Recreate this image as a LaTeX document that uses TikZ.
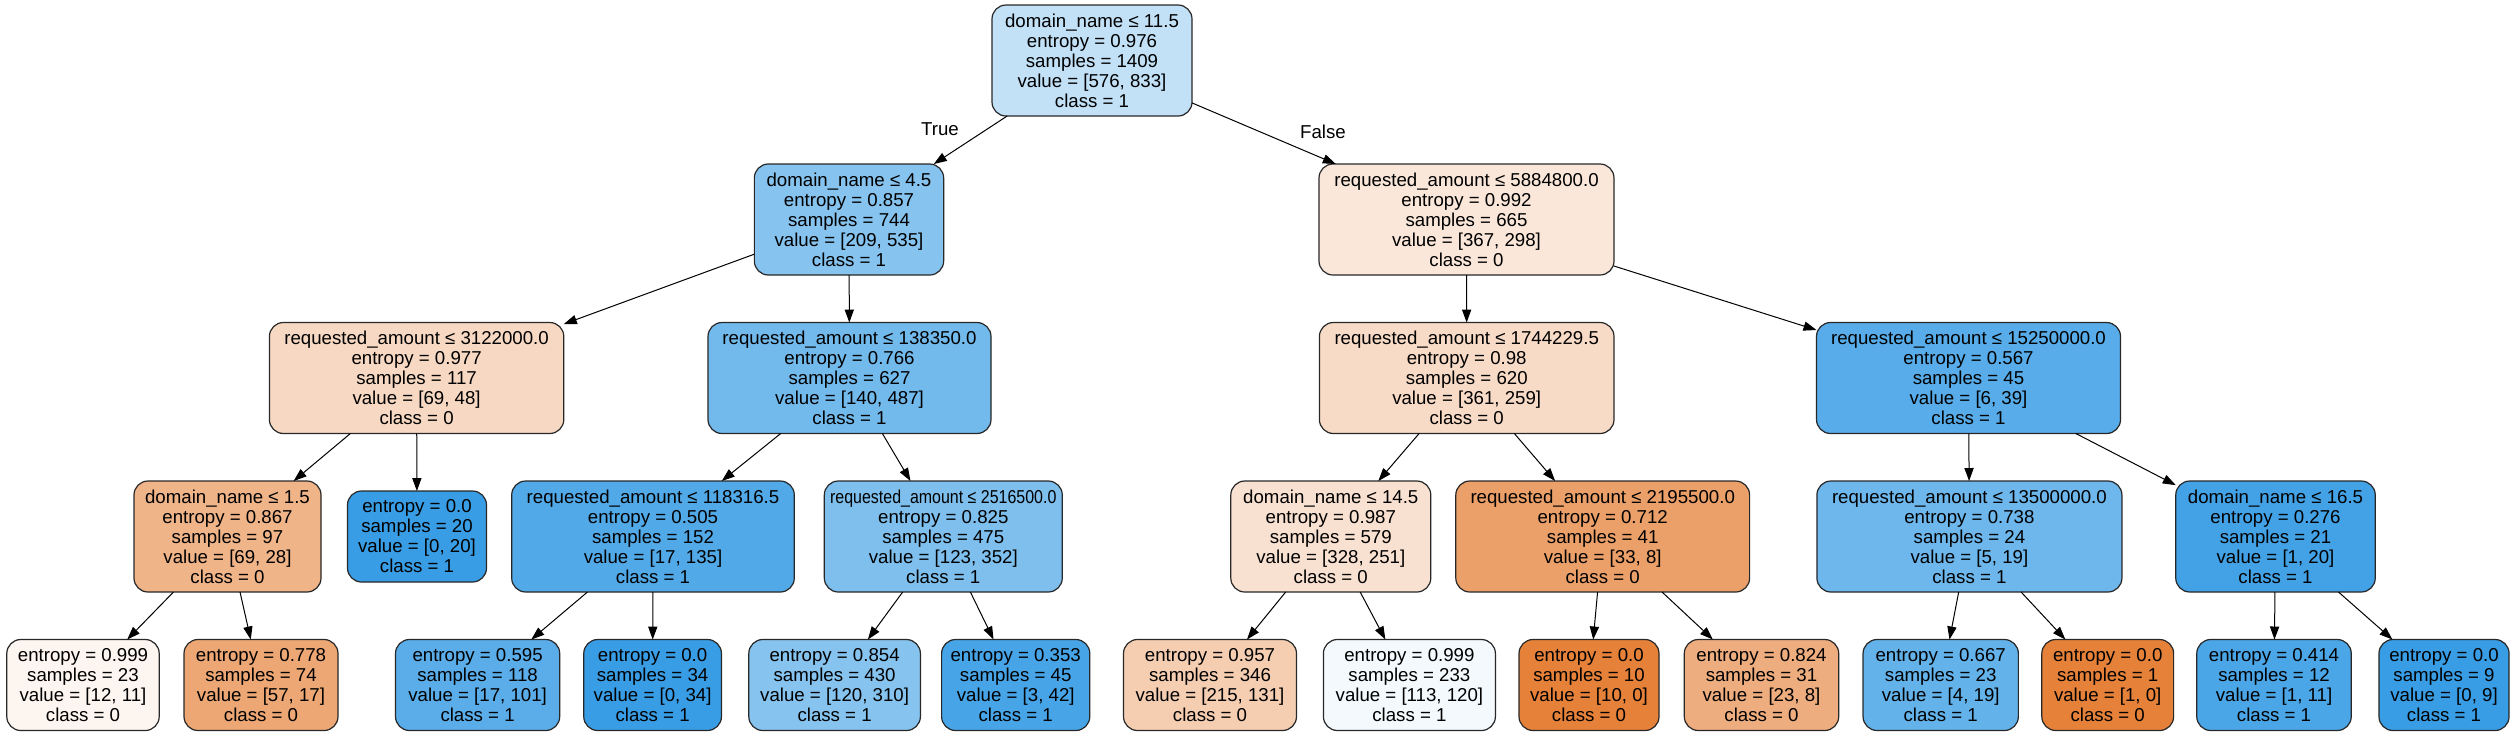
\documentclass[tikz,border=0pt]{standalone}
\usepackage{fontspec}
\setmainfont{Liberation Sans}
\usetikzlibrary{
	arrows.meta
}
\definecolor{ClassZero}{RGB}{229,129,57}
\definecolor{ClassOne}{RGB}{57,157,229}
\definecolor{EdgeGray}{RGB}{40,40,40}

\begin{document}
\begin{tikzpicture}[
	x=0.5pt,
	y=-0.5pt,
	split/.style={
		draw=EdgeGray,
		line width=0.6pt,
		rounded corners=7pt,
		align=center,
		inner xsep=4.5pt,
		inner ysep=0pt,
		outer sep=0pt,
		minimum height=55.5pt,
		font=\fontsize{9.33}{10}\selectfont
	},
	leaf/.style={
		split,
		minimum height=45.5pt
	},
	branch/.style={
		-{Triangle[length=6.5pt,width=4.6pt]},
		line width=0.5pt,
		black
	},
	answer/.style={
		inner sep=0pt,
		font=\fontsize{9.33}{10}\selectfont
	}
	]
	
	\fill[white] (0,0) rectangle (2516,736);
	
	\node[split, minimum width=100pt, fill=ClassOne!30.85] (N0) at (1092,60.5) {domain\_name ≤ 11.5\\entropy = 0.976\\samples = 1409\\value = [576, 833]\\class = 1};
	
	\node[split, minimum width=94.65pt, fill=ClassOne!60.93] (N1) at (849,219.5) {domain\_name ≤ 4.5\\entropy = 0.857\\samples = 744\\value = [209, 535]\\class = 1};
	\node[split, minimum width=147.5pt, fill=ClassZero!18.8] (N14) at (1466.5,219.5) {requested\_amount ≤ 5884800.0\\entropy = 0.992\\samples = 665\\value = [367, 298]\\class = 0};
	
	\node[split, minimum width=147.2pt, fill=ClassZero!30.43] (N2) at (416.6,378) {requested\_amount ≤ 3122000.0\\entropy = 0.977\\samples = 117\\value = [69, 48]\\class = 0};
	\node[split, minimum width=141.5pt, fill=ClassOne!71.25] (N7) at (849.5,378) {requested\_amount ≤ 138350.0\\entropy = 0.766\\samples = 627\\value = [140, 487]\\class = 1};
	\node[split, minimum width=147.3pt, fill=ClassZero!28.25] (N15) at (1466.7,378) {requested\_amount ≤ 1744229.5\\entropy = 0.98\\samples = 620\\value = [361, 259]\\class = 0};
	\node[split, minimum width=152pt, fill=ClassOne!84.62] (N22) at (1968.5,378) {requested\_amount ≤ 15250000.0\\entropy = 0.567\\samples = 45\\value = [6, 39]\\class = 1};
	
	\node[split, minimum width=93.5pt, fill=ClassZero!59.42] (N3) at (227.5,536.5) {domain\_name ≤ 1.5\\entropy = 0.867\\samples = 97\\value = [69, 28]\\class = 0};
	\node[leaf, minimum width=69.5pt, fill=ClassOne] (N6) at (417,536.5) {entropy = 0.0\\samples = 20\\value = [0, 20]\\class = 1};
	\node[split, minimum width=141.3pt, fill=ClassOne!87.41] (N8) at (653,536.5) {requested\_amount ≤ 118316.5\\entropy = 0.505\\samples = 152\\value = [17, 135]\\class = 1};
	\node[split, inner xsep=2.9pt, fill=ClassOne!65.06] (N11) at (943.3,536.5) {\scalebox{0.856}[1]{requested\_amount ≤ 2516500.0}\\entropy = 0.825\\samples = 475\\value = [123, 352]\\class = 1};
	\node[split, minimum width=100pt, fill=ClassZero!23.48] (N16) at (1330.8,536.5) {domain\_name ≤ 14.5\\entropy = 0.987\\samples = 579\\value = [328, 251]\\class = 0};
	\node[split, minimum width=146.9pt, fill=ClassZero!75.76] (N19) at (1602.7,536.5) {requested\_amount ≤ 2195500.0\\entropy = 0.712\\samples = 41\\value = [33, 8]\\class = 0};
	\node[split, minimum width=152.5pt, fill=ClassOne!73.68] (N23) at (1969.4,536.5) {requested\_amount ≤ 13500000.0\\entropy = 0.738\\samples = 24\\value = [5, 19]\\class = 1};
	\node[split, minimum width=99.75pt, fill=ClassOne!95] (N26) at (2275.5,536.5) {domain\_name ≤ 16.5\\entropy = 0.276\\samples = 21\\value = [1, 20]\\class = 1};
	
	\node[leaf, minimum width=76.2pt, fill=ClassZero!8.33] (N4) at (83,685) {entropy = 0.999\\samples = 23\\value = [12, 11]\\class = 0};
	\node[leaf, minimum width=77pt, fill=ClassZero!70.18] (N5) at (261,685) {entropy = 0.778\\samples = 74\\value = [57, 17]\\class = 0};
	\node[leaf, minimum width=82.1pt, fill=ClassOne!83.17] (N9) at (477.6,685) {entropy = 0.595\\samples = 118\\value = [17, 101]\\class = 1};
	\node[leaf, minimum width=68.85pt, fill=ClassOne] (N10) at (652.6,685) {entropy = 0.0\\samples = 34\\value = [0, 34]\\class = 1};
	\node[leaf, minimum width=85.8pt, fill=ClassOne!61.29] (N12) at (834.6,685) {entropy = 0.854\\samples = 430\\value = [120, 310]\\class = 1};
	\node[leaf, minimum width=70.35pt, fill=ClassOne!92.86] (N13) at (1015.7,685) {entropy = 0.353\\samples = 45\\value = [3, 42]\\class = 1};
	\node[leaf, minimum width=86.5pt, fill=ClassZero!39.07] (N17) at (1210,685) {entropy = 0.957\\samples = 346\\value = [215, 131]\\class = 0};
	\node[leaf, minimum width=86pt, fill=ClassOne!5.83] (N18) at (1409.4,685) {entropy = 0.999\\samples = 233\\value = [113, 120]\\class = 1};
	\node[leaf, minimum width=70pt, fill=ClassZero] (N20) at (1589,685) {entropy = 0.0\\samples = 10\\value = [10, 0]\\class = 0};
	\node[leaf, minimum width=77.2pt, fill=ClassZero!65.22] (N21) at (1761.5,685) {entropy = 0.824\\samples = 31\\value = [23, 8]\\class = 0};
	\node[leaf, minimum width=77.65pt, fill=ClassOne!78.95] (N24) at (1940.7,685) {entropy = 0.667\\samples = 23\\value = [4, 19]\\class = 1};
	\node[leaf, minimum width=65.9pt, fill=ClassZero] (N25) at (2107.7,685) {entropy = 0.0\\samples = 1\\value = [1, 0]\\class = 0};
	\node[leaf, minimum width=77.25pt, fill=ClassOne!90.91] (N27) at (2274,685) {entropy = 0.414\\samples = 12\\value = [1, 11]\\class = 1};
	\node[leaf, minimum width=65.05pt, fill=ClassOne] (N28) at (2444,685) {entropy = 0.0\\samples = 9\\value = [0, 9]\\class = 1};
	
	\node[answer] (TrueLabel) at (940,129.5) {True};
	\node[answer] (FalseLabel) at (1323,131.5) {False};
	
	\foreach \parent/\child in {
		N0/N1, N0/N14,
		N1/N2, N1/N7, N14/N15, N14/N22,
		N2/N3, N2/N6, N7/N8, N7/N11, N15/N16, N15/N19, N22/N23, N22/N26,
		N3/N4, N3/N5, N8/N9, N8/N10, N11/N12, N11/N13,
		N16/N17, N16/N18, N19/N20, N19/N21, N23/N24, N23/N25, N26/N27, N26/N28}
		\draw[branch] (\parent) -- (\child);
	
\end{tikzpicture}
\end{document}
